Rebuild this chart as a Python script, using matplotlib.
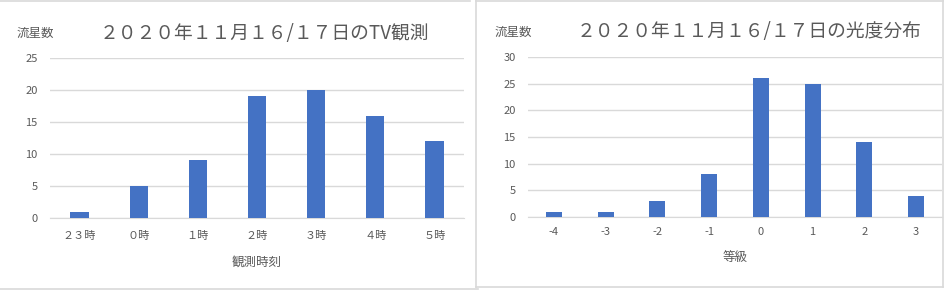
# TV観測と光度分布 (2020/11/16-17) の棒グラフ2枚
import matplotlib.pyplot as plt
from matplotlib.lines import Line2D

plt.rcParams['font.family'] = ['Noto Sans CJK JP', 'DejaVu Sans']

# データ
hours = ['２３時', '０時', '１時', '２時', '３時', '４時', '５時']
hour_counts = [1, 5, 9, 19, 20, 16, 12]

mags = ['-4', '-3', '-2', '-1', '0', '1', '2', '3']
mag_counts = [1, 1, 3, 8, 26, 25, 14, 4]

W, H = 944, 290
BAR = '#4472C4'
TXT = '#595959'
GRID = '#D9D9D9'

fig = plt.figure(figsize=(W / 100, H / 100), dpi=100)


def px(x, y):
    # pixel coords (top-left origin) -> figure fraction
    return x / W, 1 - y / H


def hline(x0, x1, y):
    fig.add_artist(Line2D([x0 / W, x1 / W], [1 - y / H] * 2, color=GRID, lw=1.2))


def vline(x, y0, y1):
    fig.add_artist(Line2D([x / W] * 2, [1 - y0 / H, 1 - y1 / H], color=GRID, lw=1.2))


def bar_chart(rect, cats, vals, ymax, title, title_xy, ylab_xy, xlabel,
              xpad, xlpad):
    ax = fig.add_axes(rect)
    ax.bar(range(len(cats)), vals, width=0.31, color=BAR, zorder=3)
    ax.set_xlim(-0.5, len(cats) - 0.5)
    ax.set_ylim(0, ymax)
    ax.set_yticks(range(0, ymax + 1, 5))
    ax.set_xticks(range(len(cats)))
    ax.set_xticklabels(cats)
    ax.grid(axis='y', color=GRID, lw=1, zorder=0)
    for s in ['top', 'right', 'left']:
        ax.spines[s].set_visible(False)
    ax.spines['bottom'].set_color(GRID)
    ax.tick_params(axis='y', length=0, pad=9, labelsize=8, labelcolor=TXT)
    ax.tick_params(axis='x', length=0, pad=xpad, labelsize=8, labelcolor=TXT)
    ax.set_xlabel(xlabel, fontsize=9, color=TXT, labelpad=xlpad)
    fig.text(*px(*title_xy), title, fontsize=13.5, color=TXT,
             ha='center', va='center')
    fig.text(*px(*ylab_xy), '流星数', fontsize=9, color=TXT,
             ha='left', va='center')
    return ax


# 左: 観測時刻別
bar_chart([50 / W, 1 - 218 / H, 414 / W, 160 / H], hours, hour_counts, 25,
          '２０２０年１１月１６/１７日のTV観測', (264, 33), (17, 33), '観測時刻',
          9, 11)
# 右: 等級別
bar_chart([528 / W, 1 - 217 / H, 414 / W, 160 / H], mags, mag_counts, 30,
          '２０２０年１１月１６/１７日の光度分布', (749, 32), (495, 32), '等級',
          7, 10)

# 枠線
hline(0, 470, 1)
hline(0, 478, 289)
hline(476, 943, 0.5)
hline(476, 943, 287)
vline(476, 0, 287)
vline(943, 0, 287)

fig.savefig('out.png', dpi=100)
